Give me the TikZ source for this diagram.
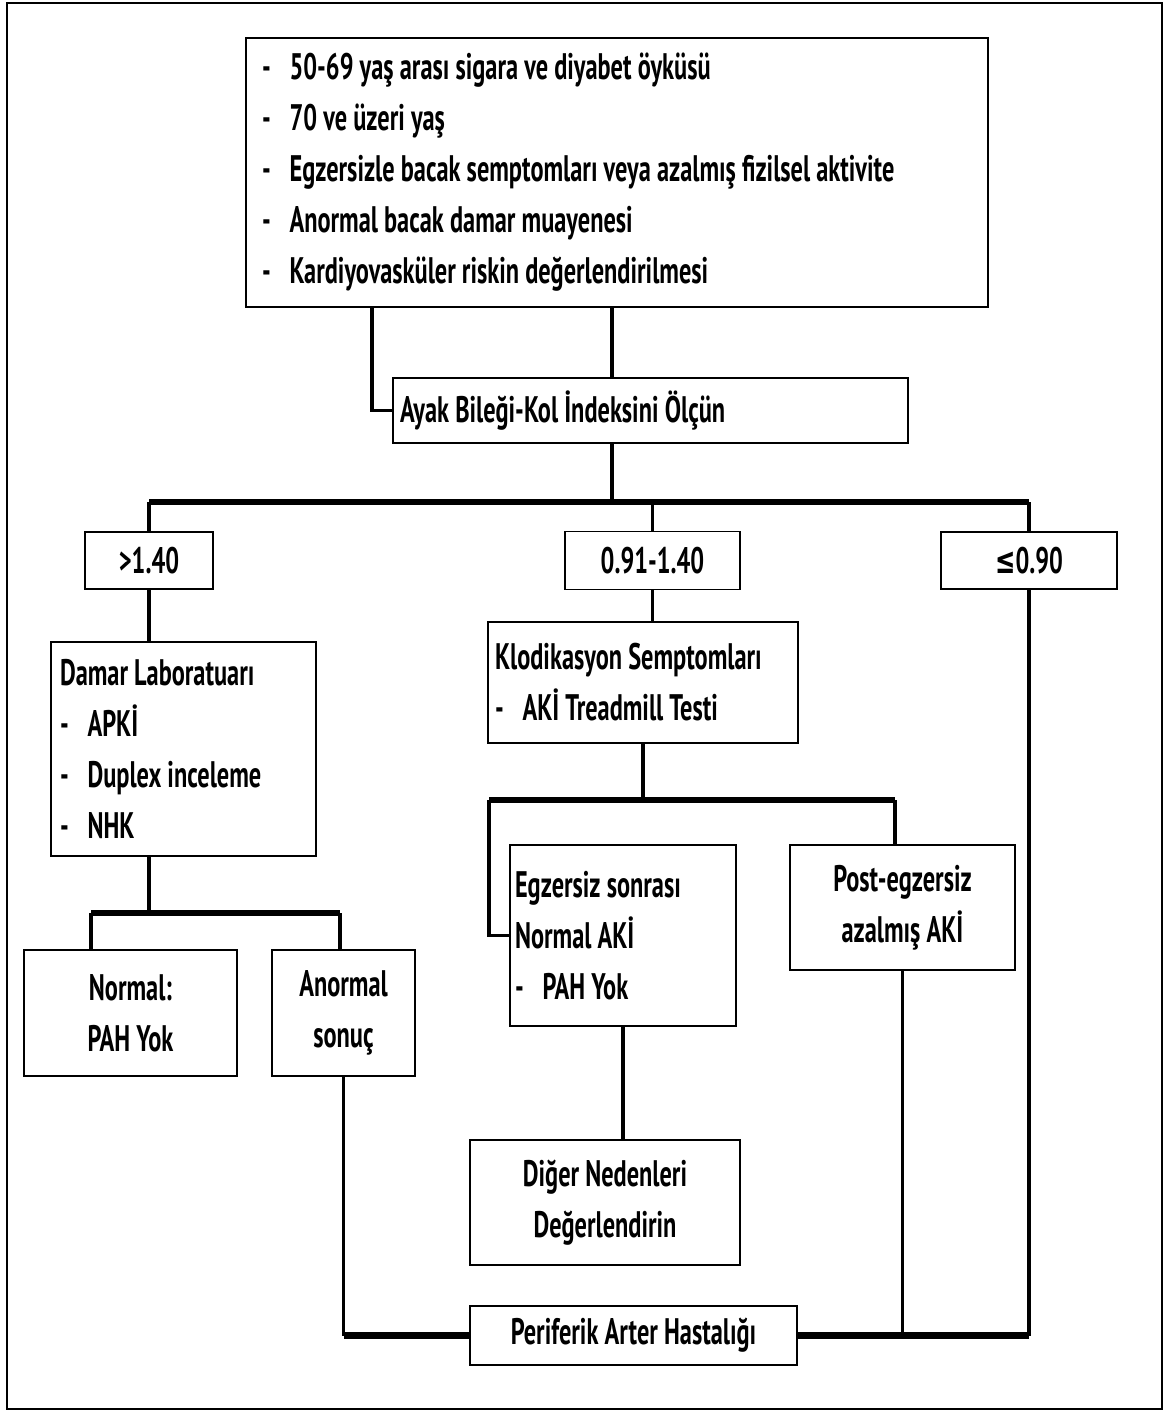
\documentclass[tikz,border=0pt]{standalone}
\usepackage{fontspec}
\setmainfont{PT Sans}[FakeStretch=0.66]
\newfontfamily\symfont{DejaVu Sans}[FakeStretch=0.66]
\newcommand{\boxfont}{\fontsize{21}{29}\selectfont\bfseries}
\newcommand{\itm}[1]{\makebox[0.55cm][l]{-}#1}
\tikzset{
	box/.style={draw, line width=1.1pt, font=\boxfont, inner ysep=0pt},
	link/.style={line width=2.2pt},
	bar/.style={line width=3.8pt},
}
\begin{document}
\begin{tikzpicture}[x=0.02cm, y=-0.02cm]
	\useasboundingbox (0,0) rectangle (1169,1412);
	\draw[line width=1pt] (7,3) rectangle (1162,1409);
	\node[box, align=flush left, text width=14.2cm, inner xsep=0.32cm, minimum height=5.38cm] (risk) at (617,172.5) {\itm{50-69 yaş arası sigara ve diyabet öyküsü}\\ \itm{70 ve üzeri yaş}\\ \itm{Egzersizle bacak semptomları veya azalmış fizilsel aktivite}\\ \itm{Anormal bacak damar muayenesi}\\ \itm{Kardiyovasküler riskin değerlendirilmesi}};
	\node[box, align=flush left, text width=10.02cm, inner xsep=0.14cm, minimum height=1.3cm] (abi) at (650.5,410.5) {Ayak Bileği-Kol İndeksini Ölçün};
	\node[box, minimum width=2.56cm, minimum height=1.14cm] (gt) at (149,560.5) {>1.40};
	\node[box, minimum width=3.5cm, minimum height=1.16cm] (mid) at (652.5,560.5) {0.91-1.40};
	\node[box, minimum width=3.52cm, minimum height=1.14cm] (le) at (1029,560.5) {{\symfont ≤}0.90};
	\node[box, align=flush left, text width=4.94cm, inner xsep=0.18cm, minimum height=4.28cm] (damar) at (183.5,749) {Damar Laboratuarı\\ \itm{APKİ}\\ \itm{Duplex inceleme}\\ \itm{NHK}};
	\node[box, align=center, minimum width=4.26cm, minimum height=2.52cm] (normal) at (130.5,1013) {Normal:\\ PAH Yok};
	\node[box, align=center, minimum width=2.86cm, minimum height=2.52cm] (anormal) at (343.5,1013) {Anormal\\ sonuç};
	\node[box, align=flush left, text width=5.92cm, inner xsep=0.14cm, minimum height=2.42cm] (klod) at (643,682.5) {Klodikasyon Semptomları\\ \itm{AKİ Treadmill Testi}};
	\node[box, align=flush left, text width=4.32cm, inner xsep=0.1cm, minimum height=3.62cm] (egz) at (623,935.5) {Egzersiz sonrası\\ Normal AKİ\\ \itm{PAH Yok}};
	\node[box, align=center, minimum width=4.5cm, minimum height=2.5cm] (post) at (902.5,907.5) {Post-egzersiz\\ azalmış AKİ};
	\node[box, align=center, minimum width=5.4cm, minimum height=2.5cm] (diger) at (605,1202.5) {Diğer Nedenleri\\ Değerlendirin};
	\node[box, minimum width=6.54cm, minimum height=1.18cm] (perif) at (633.5,1335.5) {Periferik Arter Hastalığı};
	\coordinate (riskl) at (372,307);
	\coordinate (riskr) at (612,307);
	\coordinate (split) at (612,502);
	\coordinate (dsplit) at (149,913);
	\coordinate (nl) at (91,913);
	\coordinate (nr) at (340,913);
	\coordinate (kl) at (489,800);
	\coordinate (kr) at (895,800);
	\coordinate (pl) at (anormal.south |- perif.west);
	\draw[link] (riskl) |- (abi.west);
	\draw[link] (riskr) -- (riskr |- abi.north);
	\draw[link] (riskr |- abi.south) -- (split);
	\draw[bar] (gt.north |- split) -- (le.north |- split);
	\draw[link] (gt.north |- split) -- (gt.north);
	\draw[link] (mid.north |- split) -- (mid.north);
	\draw[link] (le.north |- split) -- (le.north);
	\draw[link] (gt.south) -- (gt.south |- damar.north);
	\draw[link] (damar.south -| dsplit) -- (dsplit);
	\draw[bar] (nl) -- (nr);
	\draw[link] (nl) -- (nl |- normal.north);
	\draw[link] (nr) -- (nr |- anormal.north);
	\draw[link] (mid.south) -- (mid.south |- klod.north);
	\draw[link] (klod.south) -- (klod.south |- kl);
	\draw[bar] (kl) -- (kr);
	\draw[link] (kl) |- (egz.west);
	\draw[link] (kr) -- (kr |- post.north);
	\draw[link] (egz.south) -- (egz.south |- diger.north);
	\draw[link] (anormal.south) -- (pl);
	\draw[bar] (pl) -- (perif.west);
	\draw[bar] (perif.east) -- (le.south |- perif.east);
	\draw[link] (post.south) -- (post.south |- perif.east);
	\draw[link] (le.south) -- (le.south |- perif.east);
\end{tikzpicture}
\end{document}
